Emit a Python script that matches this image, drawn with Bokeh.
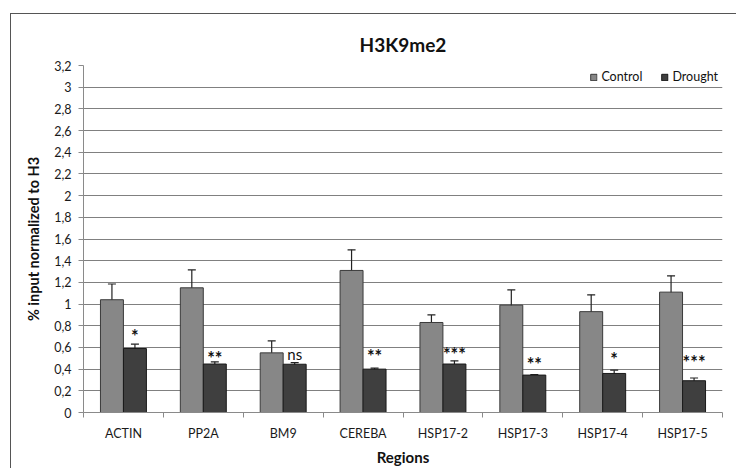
from bokeh.plotting import figure
from bokeh.models import (ColumnDataSource, Whisker, TeeHead, FixedTicker,
                          CustomJSTickFormatter, Range1d)
from bokeh.embed import file_html
from bokeh.resources import INLINE
from bokeh.core.properties import value

# ---- data ----
regions = ["ACTIN", "PP2A", "BM9", "CEREBA", "HSP17-2", "HSP17-3", "HSP17-4", "HSP17-5"]
control = [1.04, 1.15, 0.55, 1.31, 0.83, 0.99, 0.93, 1.11]
control_err = [0.145, 0.165, 0.11, 0.19, 0.07, 0.14, 0.155, 0.15]
drought = [0.59, 0.447, 0.445, 0.40, 0.447, 0.345, 0.36, 0.293]
drought_err = [0.04, 0.02, 0.015, 0.01, 0.03, 0.005, 0.03, 0.025]
significance = ["*", "**", "ns", "**", "***", "**", "*", "***"]
significance_y = [0.754, 0.553, 0.539, 0.563, 0.585, 0.493, 0.539, 0.508]
y_ticks = [0, 0.2, 0.4, 0.6, 0.8, 1, 1.2, 1.4, 1.6, 1.8, 2, 2.2, 2.4, 2.6, 2.8, 3, 3.2]

FONT = "Lato"
BAR_W = 0.2875
OFF = 0.144

n = len(regions)
centers = [i + 0.5 for i in range(n)]
ctrl_x = [c - OFF for c in centers]
dro_x = [c + OFF for c in centers]

src_c = ColumnDataSource(dict(x=ctrl_x, top=control,
                              lo=[v - e for v, e in zip(control, control_err)],
                              hi=[v + e for v, e in zip(control, control_err)]))
src_d = ColumnDataSource(dict(x=dro_x, top=drought,
                              lo=[v - e for v, e in zip(drought, drought_err)],
                              hi=[v + e for v, e in zip(drought, drought_err)]))

p = figure(width=726, height=455, output_backend="svg", toolbar_location=None,
           x_range=Range1d(0, n), y_range=Range1d(0, 3.2),
           min_border_left=72, min_border_right=15, min_border_top=51,
           min_border_bottom=57, title="H3K9me2")
p.styles = {"border-top": "1px solid #555", "border-left": "1px solid #555",
            "margin-top": "13px", "margin-left": "10px"}

p.title.align = "center"
p.title.text_font = FONT
p.title.text_font_size = "19px"
p.title.text_font_style = "bold"
p.title.text_color = "#111111"
p.title.standoff = 19

p.outline_line_color = None
p.background_fill_color = "white"
p.border_fill_color = "white"

p.vbar(x="x", top="top", width=BAR_W, source=src_c, fill_color="#878787",
       line_color="#3a3a3a", line_width=1, legend_label="Control")
p.vbar(x="x", top="top", width=BAR_W, source=src_d, fill_color="#3f3f3f",
       line_color="#1a1a1a", line_width=1, legend_label="Drought")

for src in (src_c, src_d):
    w = Whisker(source=src, base="x", lower="lo", upper="hi", line_color="#222222",
                line_width=1.2,
                upper_head=TeeHead(size=8, line_color="#222222", line_width=1.2),
                lower_head=TeeHead(size=8, line_color="#222222", line_width=1.2))
    p.add_layout(w)

# significance labels
star_idx = [i for i, s in enumerate(significance) if s != "ns"]
ns_idx = [i for i, s in enumerate(significance) if s == "ns"]
p.text(x=[dro_x[i] for i in star_idx], y=[significance_y[i] for i in star_idx],
       text=[significance[i] for i in star_idx], text_align="center",
       text_baseline="middle", text_font=value(FONT), text_font_size="18px",
       text_font_style="bold", text_color="#111111", y_offset=5)
p.text(x=[dro_x[i] for i in ns_idx], y=[significance_y[i] for i in ns_idx],
       text=[significance[i] for i in ns_idx], text_align="center",
       text_baseline="middle", text_font=value(FONT), text_font_size="15px",
       text_color="#111111")

# y axis
p.yaxis.ticker = FixedTicker(ticks=y_ticks)
p.yaxis.formatter = CustomJSTickFormatter(
    code="return (Math.round(tick*10)/10).toString().replace('.', ',');")
p.yaxis.axis_label = "% input normalized to H3"
p.yaxis.axis_label_text_font = FONT
p.yaxis.axis_label_text_font_size = "14.5px"
p.yaxis.axis_label_text_font_style = "bold"
p.yaxis.axis_label_text_color = "#111111"
p.yaxis.axis_label_standoff = 9
p.yaxis.major_label_text_font = FONT
p.yaxis.major_label_text_font_size = "12.5px"
p.yaxis.major_label_text_color = "#1a1a1a"
p.yaxis.major_label_standoff = 7
p.yaxis.axis_line_color = "#8a8a8a"
p.yaxis.major_tick_line_color = "#8a8a8a"
p.yaxis.major_tick_out = 5
p.yaxis.major_tick_in = 0
p.yaxis.minor_tick_line_color = None

# x axis
p.xaxis.ticker = FixedTicker(ticks=centers, minor_ticks=list(range(n + 1)))
p.xaxis.major_label_overrides = {c: r for c, r in zip(centers, regions)}
p.xaxis.axis_label = "Regions"
p.xaxis.axis_label_text_font = FONT
p.xaxis.axis_label_text_font_size = "15px"
p.xaxis.axis_label_text_font_style = "bold"
p.xaxis.axis_label_text_color = "#111111"
p.xaxis.axis_label_standoff = 4
p.xaxis.major_label_text_font = FONT
p.xaxis.major_label_text_font_size = "12.5px"
p.xaxis.major_label_text_color = "#1a1a1a"
p.xaxis.major_label_standoff = 8
p.xaxis.axis_line_color = "#8a8a8a"
p.xaxis.major_tick_line_color = None
p.xaxis.major_tick_out = 0
p.xaxis.major_tick_in = 0
p.xaxis.minor_tick_line_color = "#8a8a8a"
p.xaxis.minor_tick_out = 5
p.xaxis.minor_tick_in = 0

p.xgrid.grid_line_color = None
p.ygrid.grid_line_color = "#808080"
p.ygrid.grid_line_width = 1

# legend
lg = p.legend[0]
lg.location = "top_right"
lg.orientation = "horizontal"
lg.background_fill_alpha = 0
lg.border_line_color = None
lg.label_text_font = FONT
lg.label_text_font_size = "12.5px"
lg.label_text_color = "#111111"
lg.glyph_width = 8
lg.glyph_height = 8
lg.label_height = 12
lg.label_standoff = 4
lg.spacing = 18
lg.padding = 2
lg.margin = 4

open("out.html", "w").write(file_html(p, INLINE))
